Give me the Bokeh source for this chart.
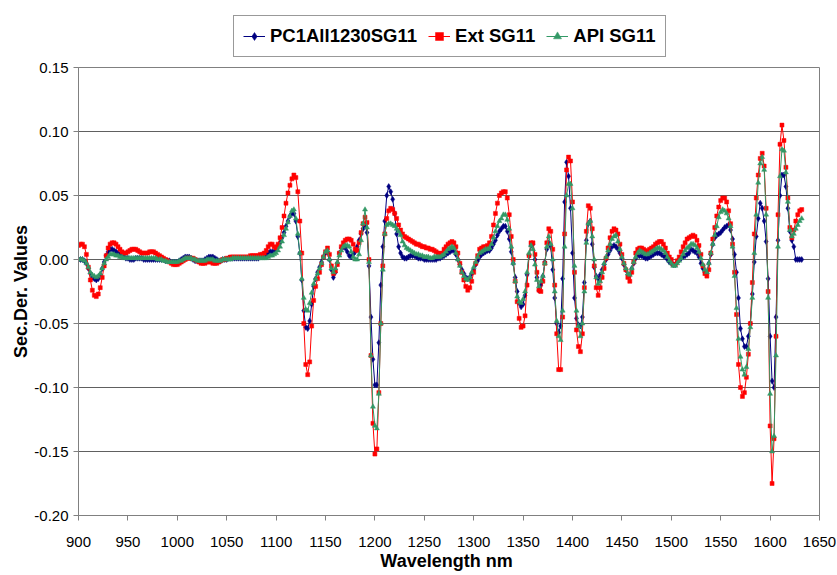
from bokeh.plotting import figure
from bokeh.layouts import column
from bokeh.models import Range1d, FixedTicker, NumeralTickFormatter, Legend, LegendItem
from bokeh.embed import file_html
from bokeh.resources import INLINE

# Sampling grid of the spectra (nm)
start_wl = 900
step_wl = 2

# Second-derivative values, one value every 2 nm from 900 nm
pc1 = [
    0.000, 0.000, 0.000, -0.001, -0.003, -0.007, -0.011, -0.014, -0.015, -0.016,  # 900
    -0.015, -0.012, -0.007, -0.002, 0.003, 0.006, 0.008, 0.008, 0.007, 0.006,     # 920
    0.005, 0.004, 0.003, 0.002, 0.001, 0.001, 0.000, 0.000, 0.000, 0.001,         # 940
    0.001, 0.001, 0.001, 0.000, 0.000, 0.000, 0.000, 0.000, 0.000, 0.000,         # 960
    0.000, 0.000, 0.000, 0.000, -0.001, -0.001, -0.001, -0.002, -0.002, -0.002,   # 980
    -0.002, -0.001, 0.000, 0.001, 0.002, 0.002, 0.002, 0.001, 0.000, -0.001,      # 1000
    -0.001, -0.001, -0.001, -0.001, 0.000, 0.001, 0.002, 0.002, 0.002, 0.001,     # 1020
    0.000, -0.001, -0.001, 0.000, 0.000, 0.000, 0.001, 0.001, 0.001, 0.001,       # 1040
    0.001, 0.001, 0.001, 0.001, 0.001, 0.001, 0.001, 0.001, 0.001, 0.001,         # 1060
    0.001, 0.001, 0.002, 0.002, 0.003, 0.004, 0.005, 0.006, 0.006, 0.006,         # 1080
    0.008, 0.010, 0.013, 0.017, 0.021, 0.026, 0.030, 0.034, 0.036, 0.036,         # 1100
    0.030, 0.018, 0.005, -0.016, -0.040, -0.053, -0.054, -0.048, -0.035, -0.021,  # 1120
    -0.015, -0.010, -0.006, -0.002, 0.002, 0.005, 0.006, 0.000, -0.008, -0.014,   # 1140
    -0.010, -0.003, 0.005, 0.009, 0.010, 0.009, 0.006, 0.003, 0.002, 0.004,       # 1160
    0.006, 0.010, 0.015, 0.020, 0.024, 0.027, 0.021, -0.005, -0.045, -0.078,      # 1180
    -0.098, -0.098, -0.065, -0.020, 0.010, 0.030, 0.050, 0.057, 0.053, 0.047,     # 1200
    0.036, 0.020, 0.010, 0.005, 0.002, 0.001, 0.001, 0.002, 0.003, 0.003,         # 1220
    0.003, 0.002, 0.001, 0.001, 0.001, 0.000, 0.000, 0.000, 0.000, 0.000,         # 1240
    0.000, 0.000, 0.001, 0.001, 0.002, 0.003, 0.004, 0.005, 0.006, 0.007,         # 1260
    0.007, 0.004, 0.000, -0.004, -0.008, -0.011, -0.014, -0.015, -0.014, -0.011,  # 1280
    -0.008, -0.004, -0.001, 0.002, 0.004, 0.005, 0.006, 0.007, 0.007, 0.009,      # 1300
    0.012, 0.015, 0.019, 0.022, 0.024, 0.026, 0.026, 0.022, 0.016, 0.006,         # 1320
    -0.003, -0.014, -0.025, -0.034, -0.037, -0.035, -0.028, -0.012, 0.003, 0.011, # 1340
    0.012, 0.000, -0.014, -0.024, -0.020, -0.013, -0.002, 0.008, 0.013, 0.010,    # 1360
    -0.008, -0.030, -0.050, -0.057, -0.052, -0.015, 0.045, 0.076, 0.065, 0.040,   # 1380
    0.005, -0.030, -0.046, -0.051, -0.052, -0.045, -0.018, 0.015, 0.028, 0.030,   # 1400
    0.012, -0.006, -0.013, -0.015, -0.012, -0.008, -0.004, 0.000, 0.004, 0.007,   # 1420
    0.010, 0.011, 0.010, 0.008, 0.005, 0.001, -0.004, -0.008, -0.012, -0.012,     # 1440
    -0.007, -0.003, 0.001, 0.003, 0.003, 0.003, 0.002, 0.001, 0.001, 0.002,       # 1460
    0.003, 0.004, 0.005, 0.005, 0.005, 0.004, 0.003, 0.002, 0.000, -0.002,        # 1480
    -0.003, -0.004, -0.004, -0.002, 0.000, 0.001, 0.002, 0.003, 0.004, 0.005,     # 1500
    0.008, 0.007, 0.006, 0.005, 0.002, -0.003, -0.007, -0.010, -0.011, -0.003,    # 1520
    0.004, 0.012, 0.017, 0.019, 0.020, 0.021, 0.023, 0.025, 0.026, 0.027,         # 1540
    0.023, 0.016, 0.004, -0.010, -0.030, -0.054, -0.062, -0.068, -0.068, -0.060,  # 1560
    -0.050, -0.027, -0.002, 0.018, 0.032, 0.044, 0.040, 0.030, 0.014, -0.015,     # 1580
    -0.060, -0.095, -0.100, -0.045, 0.015, 0.050, 0.066, 0.066, 0.057, 0.040,     # 1600
    0.022, 0.015, 0.010, 0.000, 0.000, 0.000, 0.000,                              # 1620
]

ext = [
    0.011, 0.012, 0.012, 0.010, 0.004, -0.006, -0.016, -0.024, -0.028, -0.029,   # 900
    -0.027, -0.022, -0.014, -0.005, 0.003, 0.009, 0.012, 0.013, 0.013, 0.012,     # 920
    0.010, 0.008, 0.006, 0.005, 0.005, 0.006, 0.007, 0.008, 0.008, 0.008,         # 940
    0.007, 0.006, 0.005, 0.005, 0.005, 0.005, 0.006, 0.006, 0.006, 0.005,         # 960
    0.004, 0.003, 0.002, 0.001, 0.000, -0.001, -0.002, -0.003, -0.004, -0.004,    # 980
    -0.004, -0.003, -0.002, -0.001, 0.000, 0.001, 0.001, 0.001, 0.001, 0.000,     # 1000
    -0.001, -0.002, -0.003, -0.003, -0.003, -0.002, -0.002, -0.002, -0.003, -0.003,  # 1020
    -0.003, -0.002, -0.001, 0.000, 0.000, 0.001, 0.001, 0.002, 0.002, 0.002,      # 1040
    0.002, 0.002, 0.002, 0.002, 0.002, 0.002, 0.002, 0.003, 0.003, 0.003,         # 1060
    0.003, 0.003, 0.004, 0.004, 0.005, 0.007, 0.010, 0.012, 0.012, 0.010,         # 1080
    0.009, 0.012, 0.017, 0.025, 0.034, 0.044, 0.052, 0.058, 0.063, 0.066,         # 1100
    0.064, 0.053, 0.030, 0.005, -0.050, -0.082, -0.090, -0.080, -0.052, -0.032,   # 1120
    -0.021, -0.015, -0.010, -0.004, 0.002, 0.006, 0.009, 0.004, -0.005, -0.011,   # 1140
    -0.009, -0.004, 0.005, 0.010, 0.013, 0.015, 0.016, 0.016, 0.015, 0.012,       # 1160
    0.008, 0.007, 0.013, 0.021, 0.028, 0.033, 0.029, 0.000, -0.075, -0.128,       # 1180
    -0.152, -0.148, -0.104, -0.050, -0.005, 0.020, 0.032, 0.038, 0.040, 0.039,    # 1200
    0.036, 0.032, 0.027, 0.023, 0.020, 0.018, 0.017, 0.016, 0.015, 0.014,         # 1220
    0.013, 0.012, 0.012, 0.011, 0.010, 0.010, 0.009, 0.009, 0.008, 0.008,         # 1240
    0.007, 0.006, 0.005, 0.004, 0.005, 0.008, 0.010, 0.012, 0.013, 0.014,         # 1260
    0.013, 0.010, 0.005, -0.003, -0.010, -0.016, -0.021, -0.024, -0.022, -0.017,  # 1280
    -0.010, -0.003, 0.003, 0.008, 0.009, 0.010, 0.010, 0.011, 0.013, 0.018,       # 1300
    0.027, 0.036, 0.044, 0.050, 0.052, 0.053, 0.053, 0.048, 0.035, 0.018,         # 1320
    0.000, -0.017, -0.033, -0.046, -0.053, -0.052, -0.044, -0.020, 0.003, 0.013,  # 1340
    0.013, 0.004, -0.010, -0.024, -0.025, -0.017, -0.003, 0.013, 0.024, 0.022,    # 1360
    0.008, -0.020, -0.058, -0.086, -0.086, -0.045, 0.020, 0.070, 0.080, 0.077,    # 1380
    0.045, -0.010, -0.055, -0.068, -0.072, -0.058, -0.022, 0.022, 0.042, 0.040,   # 1400
    0.024, -0.005, -0.022, -0.028, -0.022, -0.014, -0.007, 0.001, 0.009, 0.017,   # 1420
    0.022, 0.024, 0.023, 0.020, 0.012, 0.004, -0.003, -0.008, -0.014, -0.017,     # 1440
    -0.010, -0.002, 0.005, 0.008, 0.009, 0.009, 0.008, 0.007, 0.006, 0.008,       # 1460
    0.009, 0.010, 0.012, 0.013, 0.014, 0.014, 0.012, 0.009, 0.005, 0.002,         # 1480
    0.000, -0.004, -0.004, -0.001, 0.002, 0.006, 0.010, 0.013, 0.016, 0.017,      # 1500
    0.018, 0.019, 0.018, 0.015, 0.011, 0.004, -0.005, -0.011, -0.013, -0.008,     # 1520
    0.005, 0.016, 0.025, 0.034, 0.041, 0.046, 0.048, 0.048, 0.045, 0.038,         # 1540
    0.028, 0.012, -0.010, -0.043, -0.082, -0.100, -0.107, -0.104, -0.092, -0.074, # 1560
    -0.050, -0.018, 0.020, 0.048, 0.066, 0.079, 0.083, 0.073, 0.040, -0.025,      # 1580
    -0.130, -0.175, -0.140, -0.060, 0.035, 0.090, 0.105, 0.093, 0.072, 0.048,     # 1600
    0.025, 0.017, 0.023, 0.030, 0.035, 0.038, 0.039,                              # 1620
]

api = [
    0.000, 0.000, 0.000, -0.001, -0.003, -0.006, -0.010, -0.012, -0.013, -0.014,  # 900
    -0.013, -0.011, -0.007, -0.003, 0.000, 0.002, 0.004, 0.004, 0.004, 0.003,     # 920
    0.003, 0.002, 0.002, 0.001, 0.001, 0.001, 0.001, 0.001, 0.001, 0.001,         # 940
    0.001, 0.001, 0.001, 0.001, 0.001, 0.001, 0.001, 0.001, 0.001, 0.001,         # 960
    0.000, 0.000, 0.000, -0.001, -0.001, -0.002, -0.002, -0.002, -0.002, -0.002,  # 980
    -0.002, -0.001, -0.001, 0.000, 0.001, 0.001, 0.001, 0.001, 0.000, 0.000,      # 1000
    -0.001, -0.001, -0.001, -0.001, -0.001, 0.000, 0.000, 0.000, 0.000, -0.001,   # 1020
    -0.001, -0.001, -0.001, 0.000, 0.000, 0.000, 0.000, 0.000, 0.001, 0.001,      # 1040
    0.001, 0.001, 0.001, 0.001, 0.001, 0.001, 0.001, 0.001, 0.001, 0.001,         # 1060
    0.001, 0.001, 0.001, 0.001, 0.001, 0.001, 0.002, 0.003, 0.003, 0.004,         # 1080
    0.005, 0.007, 0.010, 0.014, 0.019, 0.024, 0.029, 0.034, 0.038, 0.039,         # 1100
    0.032, 0.020, 0.005, -0.015, -0.030, -0.039, -0.040, -0.034, -0.026, -0.019,  # 1120
    -0.015, -0.011, -0.007, -0.003, 0.002, 0.006, 0.007, 0.000, -0.007, -0.010,   # 1140
    -0.007, -0.002, 0.003, 0.007, 0.010, 0.011, 0.011, 0.010, 0.006, 0.002,       # 1160
    0.000, 0.000, 0.004, 0.015, 0.028, 0.039, 0.025, -0.002, -0.075, -0.115,      # 1180
    -0.130, -0.132, -0.105, -0.050, -0.008, 0.020, 0.027, 0.028, 0.028, 0.027,    # 1200
    0.026, 0.024, 0.022, 0.019, 0.014, 0.011, 0.009, 0.008, 0.007, 0.006,         # 1220
    0.005, 0.004, 0.004, 0.003, 0.003, 0.002, 0.002, 0.002, 0.001, 0.001,         # 1240
    0.002, 0.002, 0.002, 0.002, 0.003, 0.004, 0.006, 0.008, 0.009, 0.010,         # 1260
    0.009, 0.005, 0.000, -0.005, -0.010, -0.013, -0.015, -0.016, -0.014, -0.010,  # 1280
    -0.006, -0.002, 0.002, 0.005, 0.006, 0.007, 0.008, 0.008, 0.009, 0.012,       # 1300
    0.017, 0.022, 0.026, 0.030, 0.032, 0.035, 0.035, 0.031, 0.024, 0.010,         # 1320
    -0.003, -0.017, -0.029, -0.033, -0.034, -0.031, -0.025, -0.010, 0.005, 0.011, # 1340
    0.008, -0.004, -0.016, -0.021, -0.017, -0.013, -0.003, 0.010, 0.018, 0.012,   # 1360
    0.000, -0.025, -0.048, -0.060, -0.063, -0.040, 0.010, 0.050, 0.059, 0.059,    # 1380
    0.040, -0.005, -0.040, -0.052, -0.060, -0.050, -0.025, 0.013, 0.028, 0.030,   # 1400
    0.018, 0.000, -0.014, -0.019, -0.017, -0.010, -0.003, 0.002, 0.007, 0.012,    # 1420
    0.016, 0.018, 0.019, 0.014, 0.008, 0.002, -0.003, -0.007, -0.011, -0.012,     # 1440
    -0.007, -0.002, 0.002, 0.005, 0.007, 0.006, 0.005, 0.004, 0.004, 0.005,       # 1460
    0.006, 0.007, 0.008, 0.009, 0.009, 0.008, 0.007, 0.005, 0.002, -0.001,        # 1480
    -0.003, -0.005, -0.005, -0.003, -0.001, 0.001, 0.004, 0.007, 0.009, 0.010,    # 1500
    0.012, 0.012, 0.011, 0.009, 0.006, 0.001, -0.004, -0.008, -0.010, -0.003,     # 1520
    0.005, 0.012, 0.019, 0.026, 0.033, 0.037, 0.039, 0.038, 0.036, 0.032,         # 1540
    0.026, 0.010, -0.013, -0.038, -0.062, -0.076, -0.086, -0.090, -0.084, -0.070, # 1560
    -0.053, -0.030, 0.005, 0.035, 0.060, 0.075, 0.080, 0.070, 0.035, -0.030,      # 1580
    -0.105, -0.150, -0.138, -0.075, 0.010, 0.065, 0.086, 0.085, 0.068, 0.045,     # 1600
    0.023, 0.018, 0.020, 0.024, 0.027, 0.030, 0.032,                              # 1620
]

series_names = ["PC1All1230SG11", "Ext SG11", "API SG11"]
x_ticks = [900, 950, 1000, 1050, 1100, 1150, 1200, 1250, 1300, 1350,
           1400, 1450, 1500, 1550, 1600, 1650]
y_ticks = [-0.20, -0.15, -0.10, -0.05, 0.00, 0.05, 0.10, 0.15]


def grid_for(values):
    return [start_wl + step_wl * i for i in range(len(values))]


FONT = "Liberation Sans"
styles = [
    (pc1, "#000080", "diamond", 6),
    (ext, "#FF0000", "square", 4),
    (api, "#339966", "triangle", 5),
]


def draw_series(fig):
    rends = []
    for vals, color, marker, size in styles:
        xs = grid_for(vals)
        ln = fig.line(xs, vals, line_color=color, line_width=1)
        sc = fig.scatter(xs, vals, marker=marker, size=size, fill_color=color,
                         line_color=color, line_width=0.5)
        rends.append((ln, sc))
    return rends


# ---------------- main chart ----------------
p = figure(width=837, height=517, output_backend="svg", toolbar_location=None,
           x_range=Range1d(x_ticks[0], x_ticks[-1]),
           y_range=Range1d(y_ticks[0], y_ticks[-1]),
           min_border_left=78, min_border_right=18, min_border_top=9,
           min_border_bottom=60)
p.title.visible = False
p.background_fill_color = "white"
p.border_fill_color = "white"
p.outline_line_color = "#808080"
p.outline_line_width = 1

draw_series(p)

p.xaxis.ticker = FixedTicker(ticks=x_ticks)
p.yaxis.ticker = FixedTicker(ticks=y_ticks)
p.yaxis.formatter = NumeralTickFormatter(format="0.00")
for ax in (p.xaxis[0], p.yaxis[0]):
    ax.axis_line_color = "#808080"
    ax.major_tick_line_color = "#808080"
    ax.major_tick_out = 5
    ax.major_tick_in = 0
    ax.minor_tick_out = 0
    ax.minor_tick_in = 0
    ax.major_label_text_font = FONT
    ax.major_label_text_font_size = "15px"
    ax.major_label_text_color = "#000000"
    ax.axis_label_text_font = FONT
    ax.axis_label_text_font_style = "bold"
    ax.axis_label_text_font_size = "18px"
    ax.axis_label_text_color = "#000000"

p.xaxis.axis_label = "Wavelength  nm"
p.xaxis.major_label_standoff = 16
p.xaxis.axis_label_standoff = 1
p.yaxis.axis_label = "Sec.Der. Values"
p.yaxis.major_label_standoff = 5
p.yaxis.axis_label_standoff = 0

p.xgrid.grid_line_color = None
p.ygrid.grid_line_color = "#606060"
p.ygrid.grid_line_width = 1.2
p.ygrid.ticker = FixedTicker(ticks=y_ticks)

# ---------------- legend strip above the chart ----------------
# Same series drawn again through a y range that keeps them out of view;
# they only feed the legend glyphs.
lg = figure(width=837, height=58, output_backend="svg", toolbar_location=None,
            x_range=Range1d(x_ticks[0], x_ticks[-1]), y_range=Range1d(1, 2),
            x_axis_location=None, y_axis_location=None,
            min_border_left=78, min_border_right=18, min_border_top=0,
            min_border_bottom=0)
lg.title.visible = False
lg.grid.visible = False
lg.outline_line_color = None
lg.background_fill_color = "white"
lg.border_fill_color = "white"

items = [LegendItem(label=name, renderers=[ln, sc])
         for (ln, sc), name in zip(draw_series(lg), series_names)]

legend = Legend(items=items, orientation="horizontal", location=(155, 1),
                label_text_font=FONT, label_text_font_style="bold",
                label_text_font_size="18.5px", label_text_color="#000000",
                glyph_width=22, glyph_height=20, label_standoff=5, spacing=11,
                padding=9, margin=0,
                border_line_color="#333333", border_line_width=1.5,
                background_fill_color="white", background_fill_alpha=1.0)
lg.add_layout(legend, "center")

layout = column(lg, p, spacing=0)
open("out.html", "w").write(file_html(layout, INLINE))
